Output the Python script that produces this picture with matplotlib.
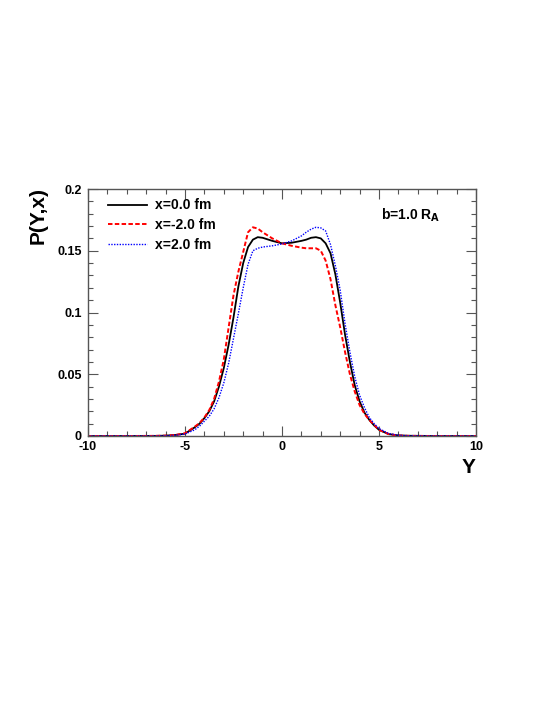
import numpy as np
import matplotlib
matplotlib.use('Agg')
import matplotlib.pyplot as plt
from matplotlib.ticker import MultipleLocator, FixedLocator, FixedFormatter

plt.rcParams['font.family'] = ['Liberation Sans', 'DejaVu Sans']
plt.rcParams['font.weight'] = 'bold'

# rapidity grid
rapidity = [-10, -8, -6.5, -6, -5.5, -5, -4.5, -4.25, -4, -3.75, -3.5, -3.25, -3, -2.75,
            -2.5, -2.25, -2, -1.75, -1.5, -1.25, -1, -0.5, 0, 0.5, 1, 1.25, 1.5, 1.75,
            2, 2.25, 2.5, 2.75, 3, 3.25, 3.5, 3.75, 4, 4.25, 4.5, 4.75, 5, 5.5, 6, 6.5,
            8, 10]

p_x0 = [0, 0, 0.0001, 0.0003, 0.0008, 0.0019, 0.007, 0.010, 0.0145, 0.020, 0.028, 0.040,
        0.055, 0.074, 0.096, 0.121, 0.140, 0.153, 0.159, 0.161, 0.1605, 0.158, 0.156,
        0.1565, 0.158, 0.159, 0.1605, 0.161, 0.160, 0.156, 0.148, 0.131, 0.108, 0.082,
        0.060, 0.041, 0.028, 0.019, 0.013, 0.0085, 0.005, 0.0015, 0.0005, 0.0002, 0, 0]

p_xm2 = [0, 0, 0.0001, 0.0003, 0.0008, 0.0022, 0.0075, 0.0105, 0.015, 0.021, 0.030, 0.044,
         0.062, 0.088, 0.114, 0.133, 0.149, 0.165, 0.169, 0.168, 0.165, 0.160, 0.156,
         0.154, 0.1525, 0.152, 0.152, 0.152, 0.150, 0.142, 0.127, 0.106, 0.088, 0.068,
         0.050, 0.036, 0.025, 0.018, 0.013, 0.009, 0.005, 0.0015, 0.0004, 0.0001, 0, 0]

p_xp2 = [0, 0, 0, 0.0002, 0.0006, 0.0016, 0.005, 0.008, 0.012, 0.016, 0.022, 0.031,
         0.043, 0.059, 0.079, 0.099, 0.120, 0.139, 0.150, 0.152, 0.153, 0.154, 0.1555,
         0.158, 0.162, 0.165, 0.1675, 0.169, 0.1685, 0.166, 0.155, 0.138, 0.118, 0.091,
         0.068, 0.048, 0.033, 0.023, 0.015, 0.010, 0.006, 0.002, 0.0006, 0.0002, 0, 0]

labels = ['x=0.0 fm', 'x=-2.0 fm', 'x=2.0 fm']

x_ticks = [-10, -5, 0, 5, 10]
x_ticklabels = ['-10', '-5', '0', '5', '10']
y_ticks = [0, 0.05, 0.1, 0.15, 0.2]
y_ticklabels = ['0', '0.05', '0.1', '0.15', '0.2']

fig = plt.figure(figsize=(5.45, 7.05), dpi=100)
ax = fig.add_axes([88 / 545, 1 - 436 / 705, 388 / 545, 247 / 705])

ax.plot(rapidity, p_x0, color='black', lw=1.3, label=labels[0])
ax.plot(rapidity, p_xm2, color='red', lw=1.4, dashes=(2.3, 1.2), label=labels[1])
ax.plot(rapidity, p_xp2, color='blue', lw=1.0, dashes=(1, 1), label=labels[2])

ax.set_xlim(-10, 10)
ax.set_ylim(0, 0.2)
ax.xaxis.set_major_locator(FixedLocator(x_ticks))
ax.xaxis.set_major_formatter(FixedFormatter(x_ticklabels))
ax.yaxis.set_major_locator(FixedLocator(y_ticks))
ax.yaxis.set_major_formatter(FixedFormatter(y_ticklabels))
ax.xaxis.set_minor_locator(MultipleLocator(1))
ax.yaxis.set_minor_locator(MultipleLocator(0.01))

frame_c = '#555555'
for s in ax.spines.values():
    s.set_color(frame_c)
    s.set_linewidth(1.0)
ax.tick_params(which='both', direction='in', top=True, right=True, color=frame_c,
               labelsize=9, width=0.8)
ax.tick_params(which='major', length=7)
ax.tick_params(axis='y', which='major', pad=4.5)
ax.tick_params(axis='x', which='major', pad=3.5)
ax.tick_params(which='minor', length=3.5)
for t in ax.get_xticklabels() + ax.get_yticklabels():
    t.set_fontweight('bold')

ax.set_ylabel('P(Y,x)', fontsize=15, fontweight='bold')
ax.yaxis.set_label_coords(-0.103, 1.01)
ax.yaxis.label.set_ha('right')
ax.set_xlabel('Y', fontsize=15, fontweight='bold')
ax.xaxis.set_label_coords(1.0, -0.09)
ax.xaxis.label.set_ha('right')

ax.legend(loc='upper left', bbox_to_anchor=(0.0523, 0.962), frameon=False,
          handlelength=2.76, handletextpad=0.6, labelspacing=0.42,
          borderpad=0, borderaxespad=0, prop={'weight': 'bold', 'size': 10})

ax.text(0.754, 0.8745, r'b=1.0 R$_{\mathbf{A}}$', transform=ax.transAxes,
        fontsize=10, fontweight='bold', va='baseline')

fig.savefig('out.png', dpi=100)
